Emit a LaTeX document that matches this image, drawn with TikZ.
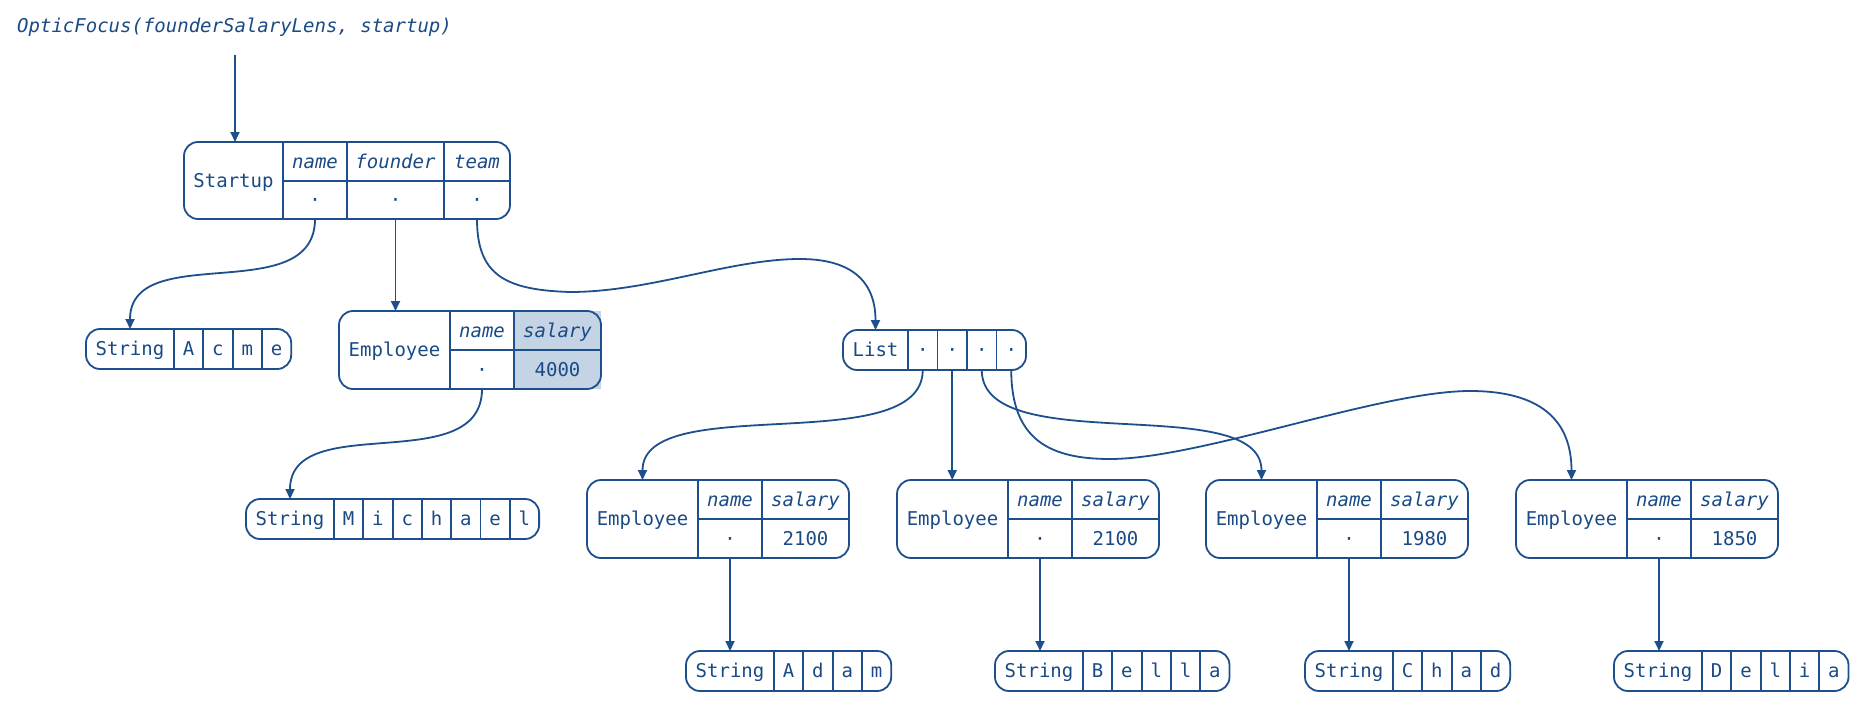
\documentclass[tikz,border=0pt]{standalone}
\usepackage{fontspec}
\setmainfont{DejaVu Sans Mono}
\usetikzlibrary{arrows.meta}
\definecolor{lc}{HTML}{1D4F8C}
\definecolor{tc}{HTML}{1A4A85}
\definecolor{hl}{HTML}{C4D4E4}
\newcommand{\fsz}{\fontsize{19}{22}\selectfont}
\tikzset{
  ln/.style={draw=lc, line width=1.8pt},
  rec/.style={draw=lc, line width=1.8pt, rounded corners=14pt},
  cell/.style={inner sep=0pt, outer sep=0pt, anchor=north west, text=tc, font=\fsz, text height=17.5pt, text depth=4pt},
  key/.style={cell, font=\fsz\itshape},
  arr/.style={draw=lc, line width=1.8pt, -{Triangle[length=10pt,width=9pt]}},
}
% string record: name, x, y, chars
\newcommand{\strrec}[4]{%
  \node[cell,minimum width=88pt,minimum height=40pt] (#1) at (#2,#3) {String};
  \foreach \chr [count=\cnum] in {#4} {
    \node[cell,minimum width=29.3pt,minimum height=40pt] (#1-\cnum) at ({#2+88+(\cnum-1)*29.3},#3) {\chr};
    \draw[ln] (#1-\cnum.north west) -- (#1-\cnum.south west);
    \xdef\lastcell{#1-\cnum}
  }
  \draw[rec] (#1.north west) rectangle (\lastcell.south east);
}
% employee record: name, x, y, salary, extra style of salary cells
\newcommand{\emprec}[5]{%
  \node[cell,minimum width=111pt,minimum height=78pt] (#1) at (#2,#3) {Employee};
  \node[key,minimum width=64pt,minimum height=39pt] (#1-nk) at ({#2+111},#3) {name};
  \node[cell,minimum width=64pt,minimum height=39pt] (#1-nv) at ({#2+111},{#3+39}) {·};
  \node[key,minimum width=87pt,minimum height=39pt,#5] (#1-sk) at ({#2+175},#3) {salary};
  \node[cell,minimum width=87pt,minimum height=39pt,#5] (#1-sv) at ({#2+175},{#3+39}) {#4};
  \draw[ln] (#1-nk.north west) -- (#1-nv.south west)
            (#1-sk.north west) -- (#1-sv.south west)
            (#1-nk.south west) -- (#1-sk.south east);
  \draw[rec] (#1.north west) rectangle (#1-sv.south east);
}
\begin{document}
\begin{tikzpicture}[x=1pt,y=-1pt]
\useasboundingbox (0,0) rectangle (1866,701);

% title
\node[anchor=base west, inner sep=0pt, text=tc, font=\fsz\itshape] (title) at (17,33) {OpticFocus(founderSalaryLens, startup)};
\coordinate (t0) at (235,55);

% Startup record
\node[cell,minimum width=99pt,minimum height=77pt] (startup) at (184,142) {Startup};
\node[key,minimum width=64pt,minimum height=39pt] (startup-nk) at (283,142) {name};
\node[cell,minimum width=64pt,minimum height=38pt] (startup-nv) at (283,181) {·};
\node[key,minimum width=97pt,minimum height=39pt] (startup-fk) at (347,142) {founder};
\node[cell,minimum width=97pt,minimum height=38pt] (startup-fv) at (347,181) {·};
\node[key,minimum width=66pt,minimum height=39pt] (startup-tk) at (444,142) {team};
\node[cell,minimum width=66pt,minimum height=38pt] (startup-tv) at (444,181) {·};
\draw[ln] (startup-nk.north west) -- (startup-nv.south west)
          (startup-fk.north west) -- (startup-fv.south west)
          (startup-tk.north west) -- (startup-tv.south west)
          (startup-nk.south west) -- (startup-tk.south east);
\draw[rec] (startup.north west) rectangle (startup-tv.south east);

% strings
\strrec{acme}{86}{329}{A,c,m,e}
\strrec{michael}{246}{499}{M,i,c,h,a,e,l}
\strrec{adam}{686}{651}{A,d,a,m}
\strrec{bella}{995}{651}{B,e,l,l,a}
\strrec{chad}{1305}{651}{C,h,a,d}
\strrec{delia}{1614}{651}{D,e,l,i,a}

% employees
\emprec{founder}{339}{311}{4000}{fill=hl}
\emprec{emp1}{587}{480}{2100}{}
\emprec{emp2}{897}{480}{2100}{}
\emprec{emp3}{1206}{480}{1980}{}
\emprec{emp4}{1516}{480}{1850}{}

% list
\node[cell,minimum width=65pt,minimum height=40pt] (list) at (843,330) {List};
\foreach \cnum in {1,...,4} {
  \node[cell,minimum width=29.5pt,minimum height=40pt] (list-\cnum) at ({908+(\cnum-1)*29.5},330) {·};
  \draw[ln] (list-\cnum.north west) -- (list-\cnum.south west);
}
\draw[rec] (list.north west) rectangle (list-4.south east);

% helper points of the long splines
\coordinate (k1) at (570,292);
\coordinate (k2) at (800,259);
\coordinate (m1) at (1110,459);
\coordinate (m2) at (1470,391);

% connectors
\draw[arr] (t0) -- (t0 |- startup.north);
\draw[arr] (startup-nv.south) .. controls +(0,90) and +(0,-90) .. (acme.north);
\draw[arr] (startup-fv.south) -- (startup-fv.south |- founder.north);
\draw[arr] (startup-tv.south) .. controls +(0,56) and +(-65,-2) .. (k1)
           .. controls +(80,0) and +(-70,0) .. (k2)
           .. controls +(50,0) and +(0,-50) .. (list.north);
\draw[arr] (founder-nv.south) .. controls +(0,90) and +(0,-90) .. (michael.north);
\draw[arr] (list-1.south) .. controls +(0,90) and +(0,-90) .. (emp1.north);
\draw[arr] (list-2.south) -- (list-2.south |- emp2.north);
\draw[arr] (list-3.south) .. controls +(0,90) and +(0,-90) .. (emp3.north);
\draw[arr] (list-4.south) .. controls +(0,70) and +(-60,0) .. (m1)
           .. controls +(90,0) and +(-90,0) .. (m2)
           .. controls +(70,0) and +(0,-60) .. (emp4.north);
\draw[arr] (emp1-nv.south) -- (emp1-nv.south |- adam.north);
\draw[arr] (emp2-nv.south) -- (emp2-nv.south |- bella.north);
\draw[arr] (emp3-nv.south) -- (emp3-nv.south |- chad.north);
\draw[arr] (emp4-nv.south) -- (emp4-nv.south |- delia.north);
\end{tikzpicture}
\end{document}
